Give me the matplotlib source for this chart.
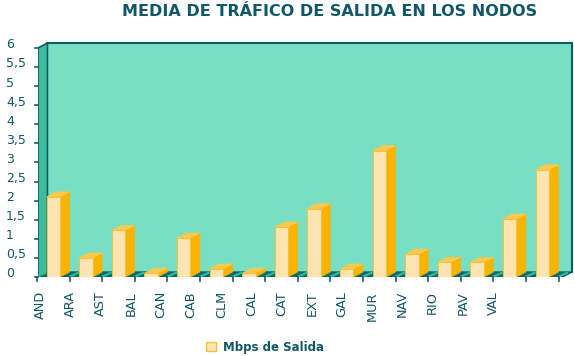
import matplotlib
matplotlib.use("Agg")
import matplotlib.pyplot as plt
from matplotlib.patches import Rectangle, Polygon, Patch
from matplotlib.transforms import blended_transform_factory

# data
nodos = ["AND", "ARA", "AST", "BAL", "CAN", "CAB", "CLM", "CAL",
         "CAT", "EXT", "GAL", "MUR", "NAV", "RIO", "PAV", "VAL"]
mbps_salida = [2.1, 0.5, 1.22, 0.1, 1.02, 0.21, 0.1, 1.31,
               1.79, 0.21, 3.31, 0.6, 0.39, 0.38, 1.52, 2.81]
y_ticks = [0, 0.5, 1, 1.5, 2, 2.5, 3, 3.5, 4, 4.5, 5, 5.5, 6]

# colours
WALL = "#79dfc4"
SIDE_WALL = "#3dbd9c"
EDGE = "#0f5c66"
FLOOR = "#0d6a70"
FLOOR_LINE = "#2dbb9b"
FRONT = "#fee4b0"
FRONT_EDGE = "#f3c040"
SIDE = "#f8b400"
TOP = "#fcc84c"
TEXT = "#105868"

W, H = 574, 356
fig = plt.figure(figsize=(W / 100, H / 100), dpi=100)
ax = fig.add_axes([38 / W, (H - 277) / H, (572 - 38) / W, (277 - 43) / H])

x0, x1 = -0.47, 15.91
ymax = 6.13
DX, DY = 0.29, 0.13
BW = 0.41
ax.set_xlim(x0, x1)
ax.set_ylim(0, ymax)
ax.axis("off")

# walls and floor
ax.add_patch(Polygon([(x0 + DX, DY), (x1, DY), (x1, ymax), (x0 + DX, ymax)],
                     closed=True, facecolor=WALL, edgecolor="none"))
ax.add_patch(Polygon([(x0, 0), (x0 + DX, DY), (x0 + DX, ymax), (x0, ymax - DY)],
                     closed=True, facecolor=SIDE_WALL, edgecolor=EDGE, lw=1.2))
ax.plot([x0 + DX, x1], [ymax, ymax], color=EDGE, lw=1.5, clip_on=False)
ax.plot([x1, x1], [DY, ymax], color=EDGE, lw=1.5, clip_on=False)
ax.add_patch(Polygon([(x0, 0), (x0 + DX, DY), (x1, DY), (x1 - DX, 0)],
                     closed=True, facecolor=FLOOR, edgecolor=EDGE, lw=1))

# category ticks on the floor
for i in range(len(nodos) + 1):
    t = i - 0.5
    ax.plot([t + 0.03, t + DX - 0.03], [0.02, DY - 0.02], color=FLOOR_LINE, lw=1.6)
    ax.plot([t, t], [0, -0.1], color=EDGE, lw=1.2, clip_on=False)

# 3d bars
for i, v in enumerate(mbps_salida):
    l, r = i - BW / 2, i + BW / 2
    ax.add_patch(Polygon([(r, 0), (r + DX, DY), (r + DX, v + DY), (r, v)],
                         closed=True, facecolor=SIDE, edgecolor=SIDE, lw=0.5))
    ax.add_patch(Polygon([(l, v), (l + DX, v + DY), (r + DX, v + DY), (r, v)],
                         closed=True, facecolor=TOP, edgecolor=TOP, lw=0.5))
    ax.add_patch(Rectangle((l, 0), BW, v, facecolor=FRONT,
                           edgecolor=FRONT_EDGE, lw=0.8))

# y axis labels and ticks
ytrans = blended_transform_factory(fig.transFigure, ax.transData)
for t in y_ticks:
    ax.plot([x0 - 0.1, x0], [t, t], color=EDGE, lw=1.2, clip_on=False)
    lbl = f"{t:g}".replace(".", ",")
    ax.text(6 / W, t + 0.08, lbl, transform=ytrans, ha="left", va="center",
            fontsize=9, color=TEXT)

# category labels (placed as in the reference, slightly tighter than the bars)
for i, name in enumerate(nodos):
    ax.text(-0.4 + 0.926 * i, -0.06, name, transform=ax.get_xaxis_transform(),
            rotation=90, ha="center", va="top", fontsize=9.3, color=TEXT)

fig.text(330 / W, 1 - 11 / H, "MEDIA DE TRÁFICO DE SALIDA EN LOS NODOS",
         ha="center", va="center", fontsize=11.5, fontweight="bold", color=TEXT)

fig.legend(handles=[Patch(facecolor=FRONT, edgecolor=FRONT_EDGE)],
           labels=["Mbps de Salida"], loc="center",
           bbox_to_anchor=(265 / W, 1 - 347 / H), frameon=False,
           handlelength=0.8, handleheight=0.8, handletextpad=0.6,
           prop={"weight": "bold", "size": 8.5}, labelcolor=TEXT)

fig.savefig("out.png", dpi=100, facecolor="white")
